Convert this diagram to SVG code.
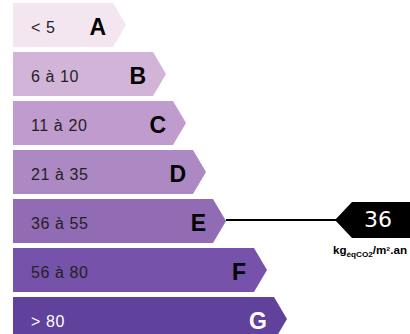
<svg xmlns="http://www.w3.org/2000/svg" width="410" height="334" viewBox="0 0 410 334">
<style>
.rng{font-family:"Liberation Sans",Arial,sans-serif;font-size:16px;letter-spacing:0.6px;fill:#222}
.let{font-family:"Liberation Sans",Arial,sans-serif;font-size:23px;font-weight:bold;fill:#000;text-anchor:end}
.w{fill:#fff}
</style>
<rect width="410" height="334" fill="#fff"/>
<g id="A"><polygon points="13,3 113,3 126,25 113,47 13,47" fill="#f3e6f1"/><text class="rng" x="31" y="33">&lt; 5</text><text class="let" x="106" y="35">A</text></g>
<g id="B"><polygon points="13,52 153,52 166,74 153,96 13,96" fill="#d2b4d9"/><text class="rng" x="31" y="82">6 à 10</text><text class="let" x="146" y="83.5">B</text></g>
<g id="C"><polygon points="13,101 173,101 186,123 173,145 13,145" fill="#c09bcd"/><text class="rng" x="31" y="131">11 à 20</text><text class="let" x="166" y="132.5">C</text></g>
<g id="D"><polygon points="13,150 193,150 206,172 193,194 13,194" fill="#ad89c4"/><text class="rng" x="31" y="180">21 à 35</text><text class="let" x="186" y="181.5">D</text></g>
<g id="E"><polygon points="13,199 213,199 226,221 213,243 13,243" fill="#926bb5"/><text class="rng" x="31" y="229">36 à 55</text><text class="let" x="206" y="230.5">E</text></g>
<g id="F"><polygon points="13,248 254,248 267,270 254,292 13,292" fill="#7752aa"/><text class="rng" x="31" y="278">56 à 80</text><text class="let" x="246" y="279.5">F</text></g>
<g id="G"><polygon points="13,297 274,297 287,319 274,341 13,341" fill="#60419c"/><text class="rng w" x="31" y="327">&gt; 80</text><text class="let w" x="267" y="328.5">G</text></g>
<g id="connectors"><line x1="226" y1="220" x2="340" y2="220" stroke="#000" stroke-width="2"/></g>
<g id="value"><polygon points="335,220 352,202 410,202 410,238 352,238" fill="#000"/><text x="378" y="226.5" font-family="'DejaVu Sans',sans-serif" font-size="22" fill="#fff" text-anchor="middle">36</text>
<text x="333" y="254" font-family="'Liberation Sans',Arial,sans-serif" font-size="10" font-weight="bold" fill="#000" textLength="74" lengthAdjust="spacingAndGlyphs">kg<tspan font-size="7" dy="2.5">éqCO2</tspan><tspan dy="-2.5">/m²</tspan>.an</text></g>
</svg>
